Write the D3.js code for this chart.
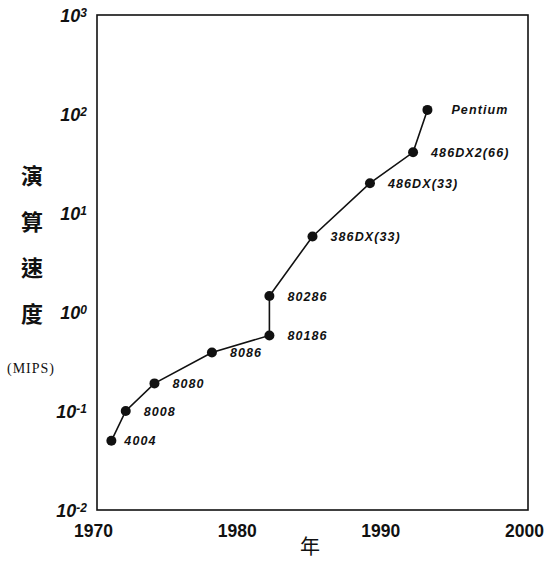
<!DOCTYPE html>
<html>
<head>
<meta charset="utf-8">
<script src="https://cdn.jsdelivr.net/npm/d3@7"></script>
<style>
  body { margin: 0; background: #fff; }
  svg { display: block; }
</style>
</head>
<body>
<svg id="svg"></svg>
<script>
// chips, year of release, speed in MIPS
var chips = ['4004', '8008', '8080', '8086', '80186', '80286', '386DX(33)', '486DX(33)', '486DX2(66)', 'Pentium'];
var years = [1971, 1972, 1974, 1978, 1982, 1982, 1985, 1989, 1992, 1993];
var mips = [0.05, 0.1, 0.19, 0.39, 0.58, 1.45, 5.8, 20, 41, 110];

var xTicks = [1970, 1980, 1990, 2000];
var yTicks = [1e-2, 1e-1, 1e0, 1e1, 1e2, 1e3];
var yExp = ['-2', '-1', '0', '1', '2', '3'];
var yTitle = ['演', '算', '速', '度'];

var data = chips.map(function (c, i) {
  return { name: c, year: years[i], v: mips[i] };
});

/* 基本參數 */
var W = 560, H = 561;
var margin = { top: 15, right: 32, bottom: 51, left: 97 };
var width = W - margin.left - margin.right,
  height = H - margin.top - margin.bottom;

var scaleX = d3.scaleLinear().domain([1970, 2000]).range([0, width]);
var scaleY = d3.scaleLog().domain([1e-2, 1e3]).range([height, 0]);

var s = d3.select('#svg').attr('width', W).attr('height', H);
var g = s.append('g')
  .attr('transform', 'translate(' + margin.left + ',' + margin.top + ')');

// frame
g.append('rect')
  .attr('width', width).attr('height', height)
  .attr('fill', 'none').attr('stroke', '#111').attr('stroke-width', 1.6);

// x axis
var axisX = d3.axisBottom(scaleX).tickValues(xTicks).tickSize(0).tickFormat(d3.format('d'));
var gx = g.append('g').attr('transform', 'translate(0,' + height + ')').call(axisX);
gx.select('.domain').remove();
gx.selectAll('text')
  .attr('dy', 0).attr('y', 27).attr('dx', -4)
  .style('font-family', '"Liberation Sans", Arial, sans-serif')
  .style('font-weight', 'bold').style('font-size', '17.5px').attr('fill', '#111');

// y axis
var axisY = d3.axisLeft(scaleY).tickValues(yTicks).tickSize(0).tickFormat(function () { return ''; });
var gy = g.append('g').call(axisY);
gy.select('.domain').remove();
gy.selectAll('.tick text').each(function (d) {
  var t = d3.select(this).attr('x', -10).attr('dy', '0.38em')
    .style('font-family', '"Liberation Sans", Arial, sans-serif')
    .style('font-weight', 'bold').style('font-style', 'italic')
    .style('font-size', '18px').attr('fill', '#111');
  t.append('tspan').text('10');
  t.append('tspan').attr('dy', '-0.45em').style('font-size', '12px').text(yExp[yTicks.indexOf(d)]);
});

// line + points
var line = d3.line()
  .x(function (d) { return scaleX(d.year); })
  .y(function (d) { return scaleY(d.v); });

g.append('path').datum(data)
  .attr('d', line)
  .attr('fill', 'none').attr('stroke', '#111').attr('stroke-width', 1.6);

g.selectAll('circle.pt').data(data).enter().append('circle')
  .attr('class', 'pt')
  .attr('cx', function (d) { return scaleX(d.year); })
  .attr('cy', function (d) { return scaleY(d.v); })
  .attr('r', 5).attr('fill', '#111');

g.selectAll('text.lbl').data(data).enter().append('text')
  .attr('class', 'lbl')
  .attr('x', function (d) { return scaleX(d.year) + (d.name === 'Pentium' ? 24 : d.name === '4004' ? 13 : 18); })
  .attr('y', function (d) { return scaleY(d.v) + 4.5; })
  .style('font-family', '"Liberation Sans", Arial, sans-serif')
  .style('font-weight', 'bold').style('font-style', 'italic')
  .style('font-size', '12.5px').style('letter-spacing', '1.1px')
  .attr('fill', '#111')
  .text(function (d) { return d.name; });

// axis titles
s.append('text')
  .attr('x', 310).attr('y', 554).attr('text-anchor', 'middle')
  .style('font-family', '"Noto Sans CJK TC", sans-serif')
  .style('font-size', '20px').attr('fill', '#111')
  .text('年');

s.selectAll('text.yt').data(yTitle).enter().append('text')
  .attr('class', 'yt')
  .attr('x', 32).attr('y', function (d, i) { return 176 + i * 46; })
  .attr('dy', '0.36em').attr('text-anchor', 'middle')
  .style('font-family', '"Noto Sans CJK TC", sans-serif')
  .style('font-weight', 'bold').style('font-size', '22px').attr('fill', '#111')
  .text(function (d) { return d; });

s.append('text')
  .attr('x', 31).attr('y', 368).attr('dy', '0.36em').attr('text-anchor', 'middle')
  .style('font-family', '"Liberation Serif", serif')
  .style('font-size', '14px').style('letter-spacing', '1px').attr('fill', '#111')
  .text('(MIPS)');
</script>
</body>
</html>
